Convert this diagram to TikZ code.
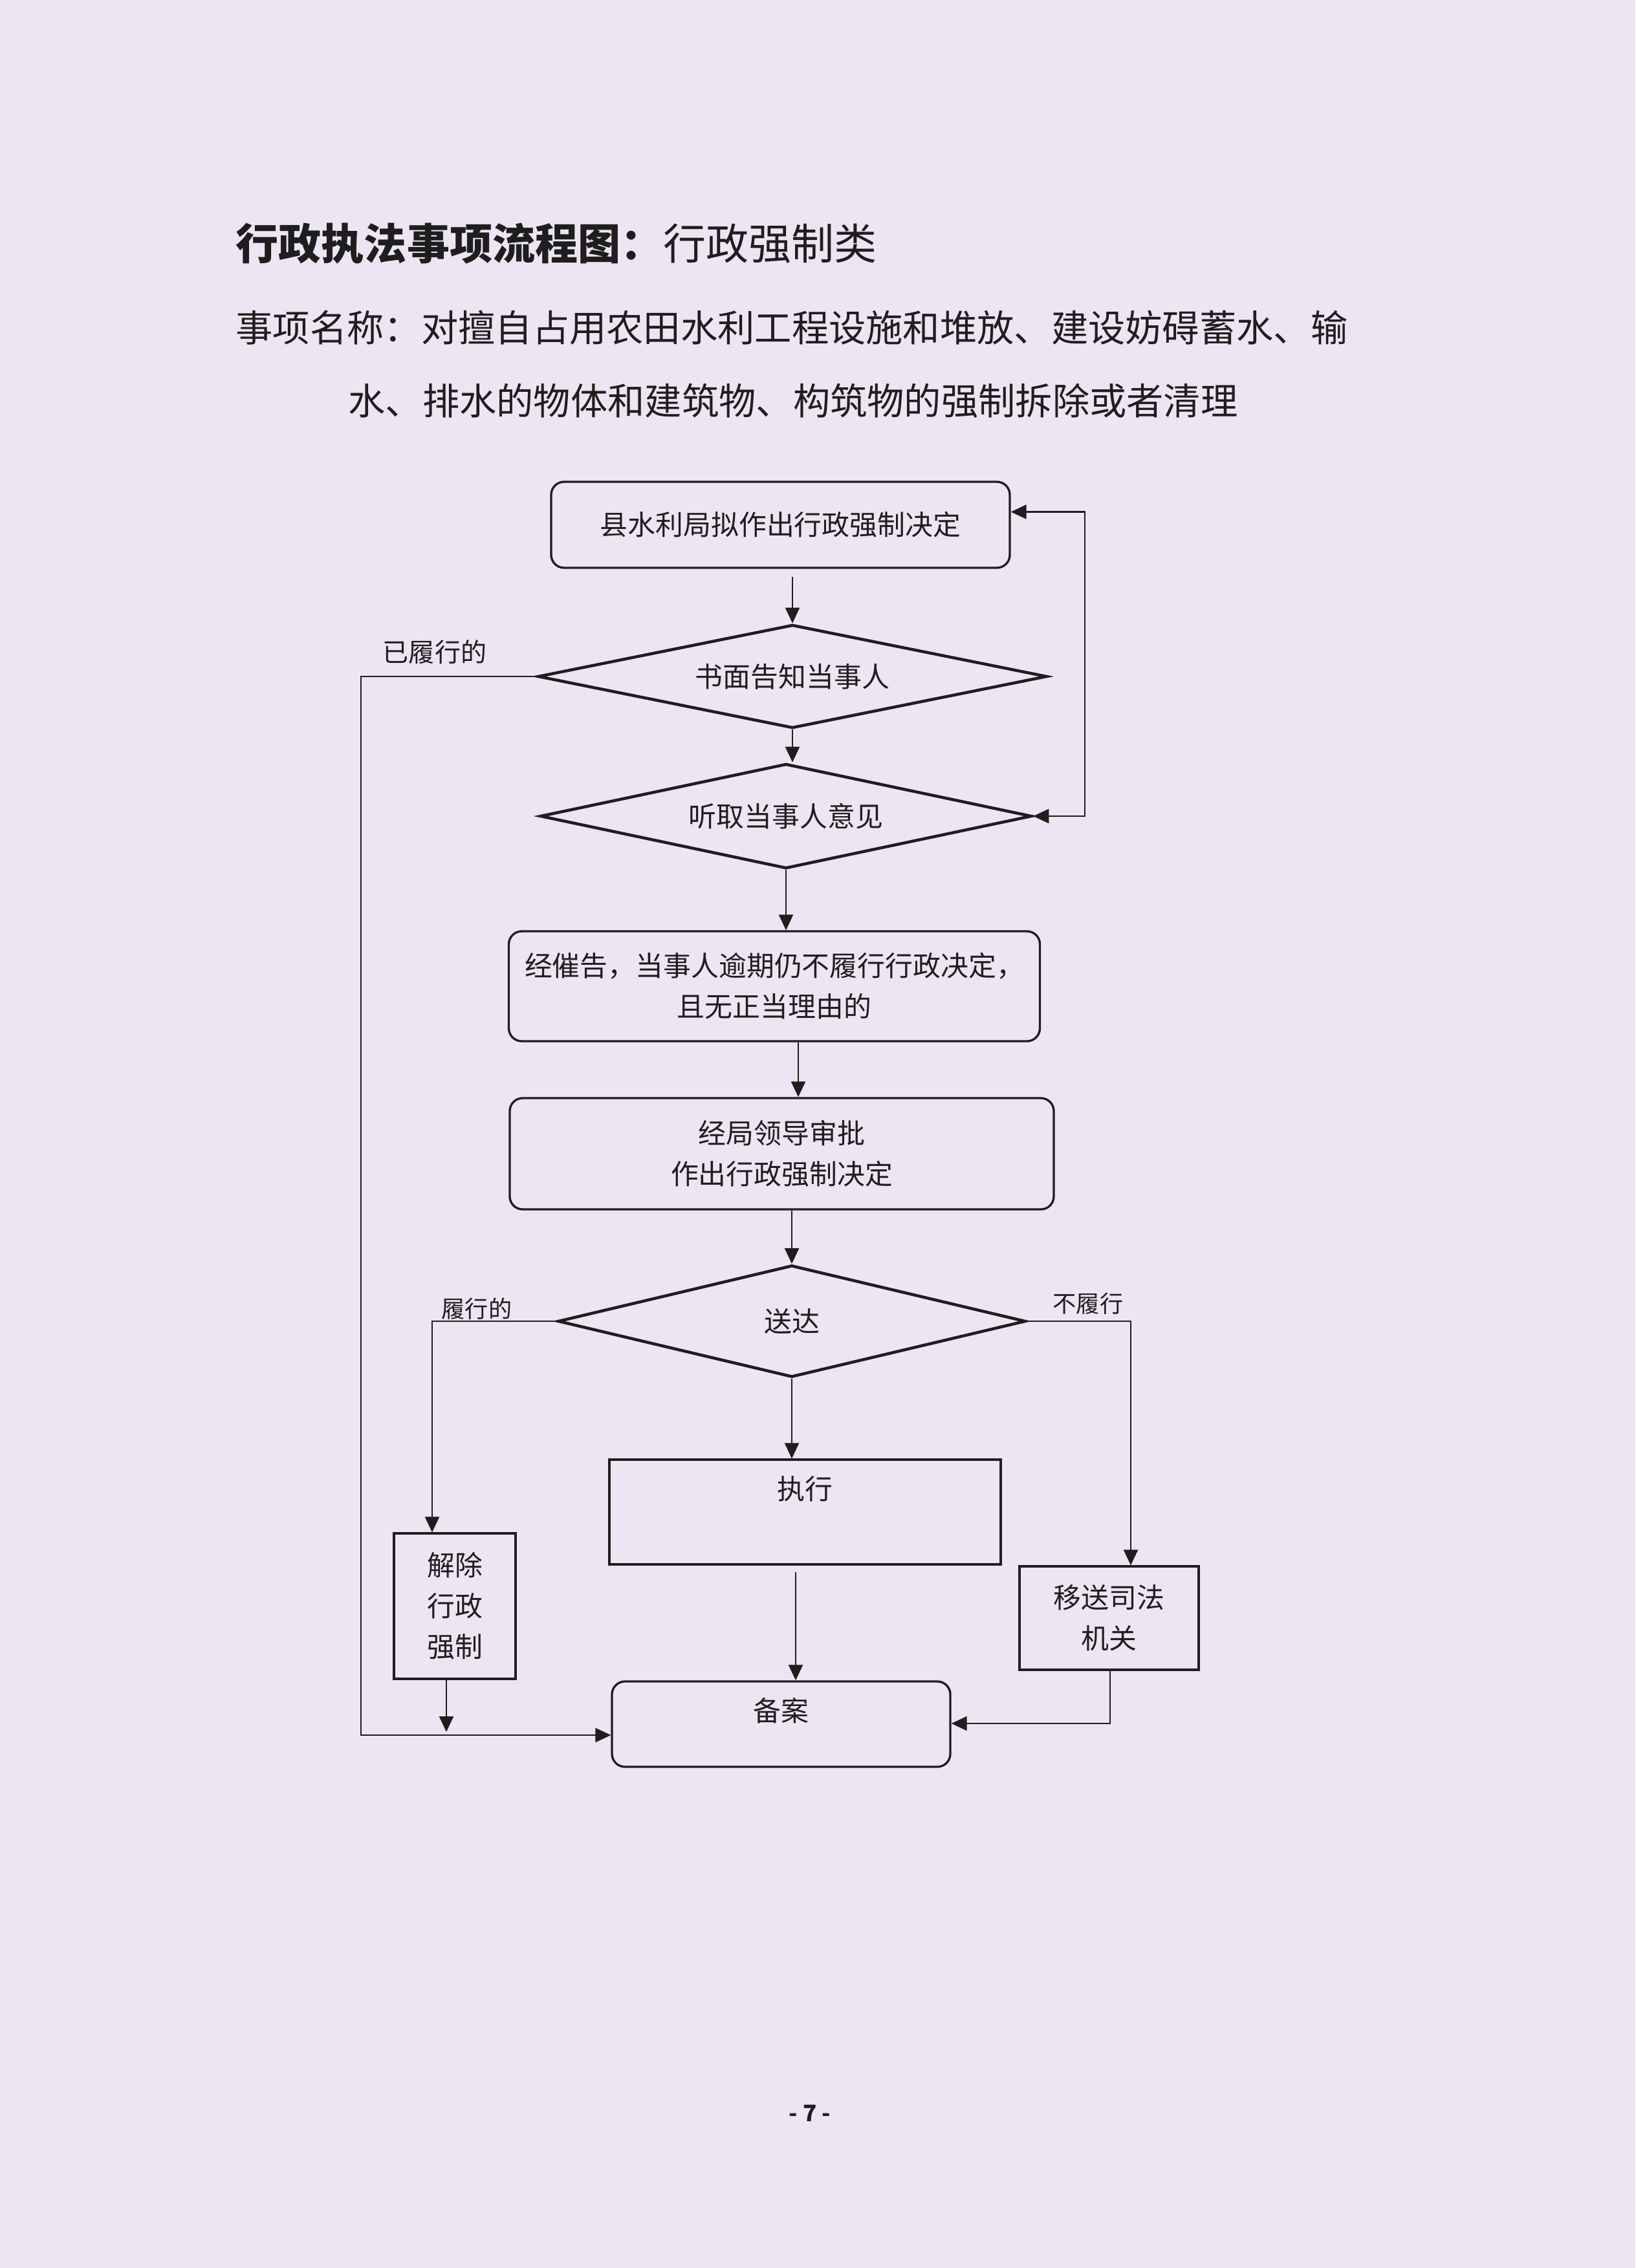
\documentclass[tikz,border=0pt]{standalone}
\usepackage{fontspec}
\setmainfont{Noto Sans CJK SC}
\usetikzlibrary{arrows.meta,positioning}
\usetikzlibrary{shapes.geometric}
\definecolor{paper}{RGB}{238,229,243}
\definecolor{ink}{RGB}{30,30,30}
\tikzset{>={Triangle[length=2.4mm,width=2.2mm]}}
\tikzset{roundbox/.style={rectangle,rounded corners=2mm,draw=ink,line width=0.95pt,align=center,inner sep=0pt,text=ink,font=\fontsize{12.2}{17.9}\selectfont}}
\tikzset{sharpbox/.style={rectangle,draw=ink,line width=0.9pt,align=center,inner sep=0pt,text=ink,font=\fontsize{12.2}{17.9}\selectfont}}
\tikzset{choice/.style={diamond,draw=ink,line width=1.3pt,inner sep=0pt,aspect=4,text=ink,font=\fontsize{12.2}{17.9}\selectfont}}
\tikzset{link/.style={draw=ink,line width=0.65pt}}
\tikzset{sidetext/.style={inner sep=0pt,text=ink,font=\fontsize{10.3}{12}\selectfont}}

\begin{document}
\begin{tikzpicture}[y=-1cm]
\useasboundingbox (0,0) rectangle (25.28,35.07);
\fill[paper] (0,0) rectangle (25.28,35.07);
% heading
\node (title) [anchor=west,inner sep=0pt,text=ink,font=\fontsize{18.8}{20}\selectfont] at (3.64,3.77) {\textbf{行政执法事项流程图：}行政强制类};
\node (item1) [anchor=west,inner sep=0pt,text=ink,font=\fontsize{16.3}{18}\selectfont] at (3.64,5.07) {事项名称：对擅自占用农田水利工程设施和堆放、建设妨碍蓄水、输};
\node (item2) [inner sep=0pt,text=ink,font=\fontsize{16.3}{18}\selectfont] at (12.26,6.20) {水、排水的物体和建筑物、构筑物的强制拆除或者清理};
% steps
\node (plan) [roundbox,minimum width=7.09cm,minimum height=1.33cm] at (12.065,8.115) {县水利局拟作出行政强制决定};
\node (notify) [choice,minimum width=7.87cm,minimum height=1.60cm] at (12.25,10.46) {书面告知当事人};
\node (hear) [choice,minimum width=7.6cm,minimum height=1.62cm] at (12.15,12.62) {听取当事人意见};
\node (overdue) [roundbox,minimum width=8.21cm,minimum height=1.70cm] at (11.97,15.25) {经催告，当事人逾期仍不履行行政决定，\\且无正当理由的};
\node (decide) [roundbox,minimum width=8.41cm,minimum height=1.72cm] at (12.085,17.84) {经局领导审批\\作出行政强制决定};
\node (deliver) [choice,minimum width=7.23cm,minimum height=1.73cm] at (12.24,20.43) {送达};
\node (enforce) [sharpbox,minimum width=6.05cm,minimum height=1.62cm,text depth=0.75cm] at (12.445,23.38) {执行};
\node (lift) [sharpbox,minimum width=1.88cm,minimum height=2.25cm] at (7.03,24.835) {解除\\行政\\强制};
\node (transfer) [sharpbox,minimum width=2.77cm,minimum height=1.60cm] at (17.145,25.02) {移送司法\\机关};
\node (record) [roundbox,minimum width=5.23cm,minimum height=1.32cm,text depth=0.45cm] at (12.075,26.66) {备案};
% labels
\node (donelbl) [sidetext,font=\fontsize{11.4}{12}\selectfont] at (6.72,10.08) {已履行的};
\node (yeslbl) [sidetext] at (7.37,20.24) {履行的};
\node (nolbl) [sidetext] at (16.82,20.16) {不履行};
\node (pageno) [inner sep=0pt,text=ink,font=\fontsize{10}{12}\selectfont\bfseries] at (12.52,32.68) {- 7 -};
%
\coordinate (back) at (16.77,12.62);
\coordinate (leftrail) at (5.58,26.83);
\coordinate (yesturn) at (6.68,20.43);
\coordinate (noturn) at (17.48,20.43);
\coordinate (down) at (12.30,24.31);
\coordinate (liftdrop) at (6.90,26.78);
\coordinate (refturn) at (17.16,26.65);
%
\draw[link,->,shorten <=1.2mm] (plan.south -| notify.north) -- (notify.north);
\draw[link,->] (notify.south) -- (notify.south |- hear.north);
\draw[link,<->] ([yshift=2mm]plan.east) -| (back) -- (hear.east);
\draw[link,->] (notify.west) -| (leftrail) -- (leftrail -| record.west);
\draw[link,->] (hear.south) -- (hear.south |- overdue.north);
\draw[link,->] ([xshift=3.7mm]overdue.south) -- ([xshift=3.7mm]overdue.south |- decide.north);
\draw[link,->] (decide.south -| deliver.north) -- (deliver.north);
\draw[link,->] (deliver.west) -- (yesturn) -- (yesturn |- lift.north);
\draw[link,->] (deliver.east) -- (noturn) -- (noturn |- transfer.north);
\draw[link,->] (deliver.south) -- (deliver.south |- enforce.north);
\draw[link,->] (down) -- (down |- record.north);
\draw[link,->] (liftdrop |- lift.south) -- (liftdrop);
\draw[link,->] (refturn |- transfer.south) -- (refturn) -- (refturn -| record.east);
\end{tikzpicture}
\end{document}
